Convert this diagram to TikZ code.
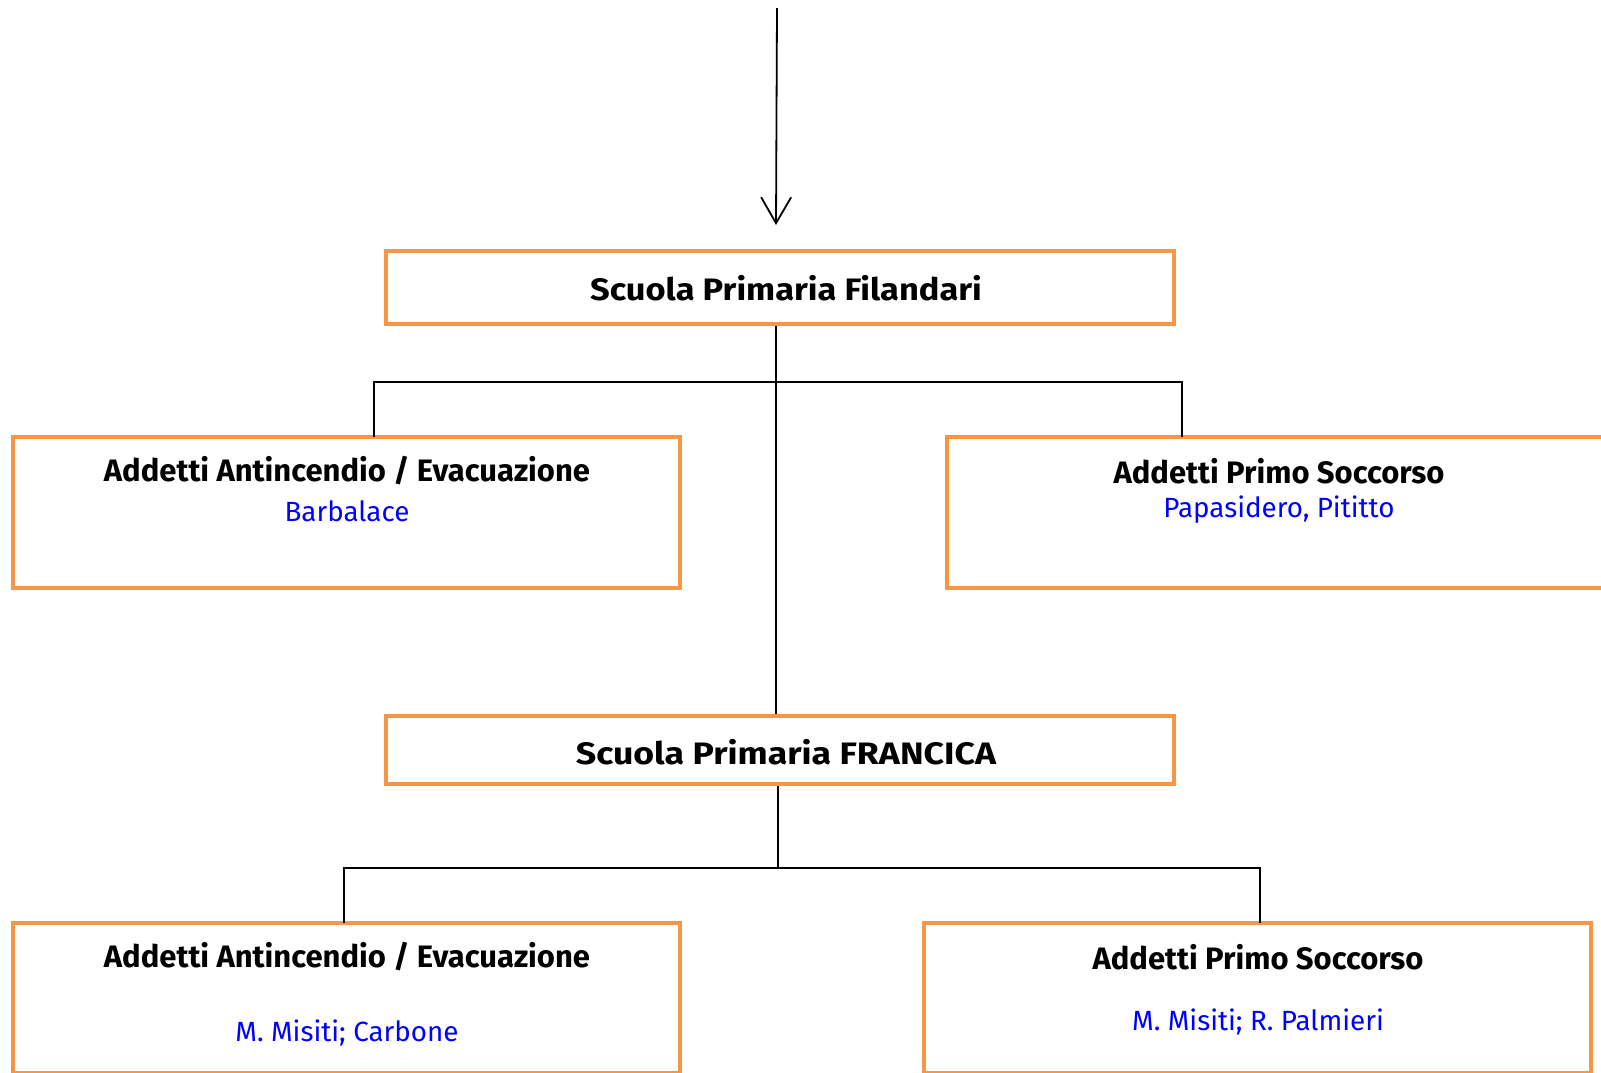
\documentclass[tikz,border=0pt]{standalone}
\usepackage{fontspec}
\setmainfont{Fira Sans}
\newfontfamily\widefont[FakeStretch=1.11]{Fira Sans}
\newfontfamily\widerfont[FakeStretch=1.15]{Fira Sans}
\usetikzlibrary{arrows.meta}
\definecolor{boxorange}{HTML}{F79646}
\begin{document}
\begin{tikzpicture}[x=1pt,y=-1pt,
  orgbox/.style={draw=boxorange,line width=4.5pt,fill=white,inner sep=0pt},
  conn/.style={draw=black,line width=1.8pt},
  title/.style={font=\fontsize{31}{36}\selectfont\bfseries,inner sep=0pt,text=black},
  school/.style={font=\widefont\fontsize{31}{36}\selectfont\bfseries,inner sep=0pt,text=black},
  schoolcaps/.style={font=\widerfont\fontsize{31}{36}\selectfont\bfseries,inner sep=0pt,text=black},
  names/.style={font=\fontsize{27.8}{33}\selectfont,inner sep=0pt,text=blue},
  tip/.style={-{Straight Barb[length=26pt,width=30pt,line width=1.8pt]}}]
\clip (0,0) rectangle (1601,1072);
\fill[white] (0,0) rectangle (1601,1072);
% boxes
\node[orgbox,minimum width=788pt,minimum height=73pt] (b1) at (780,287.5) {};
\node[orgbox,minimum width=667pt,minimum height=151pt] (b2l) at (346.5,512.5) {};
\node[orgbox,minimum width=680pt,minimum height=151pt] (b2r) at (1287,512.5) {};
\node[orgbox,minimum width=788pt,minimum height=68pt] (b3) at (780,750) {};
\node[orgbox,minimum width=667pt,minimum height=150pt] (b4l) at (346.5,998) {};
\node[orgbox,minimum width=667pt,minimum height=150pt] (b4r) at (1257.5,998) {};
% texts
\node[school] (t1) at (786,288) {Scuola Primaria Filandari};
\node[title] (t2l) at (347,471) {Addetti Antincendio / Evacuazione};
\node[names] (n2l) at (347,511) {Barbalace};
\node[title] (t2r) at (1279,471) {Addetti Primo Soccorso};
\node[names] (n2r) at (1279,510) {Papasidero, Pititto};
\node[schoolcaps] (t3) at (786,752) {Scuola Primaria FRANCICA};
\node[title] (t4l) at (347,957) {Addetti Antincendio / Evacuazione};
\node[names] (n4l) at (347,1033) {M. Misiti; Carbone};
\node[title] (t4r) at (1258,957) {Addetti Primo Soccorso};
\node[names] (n4r) at (1258,1022) {M. Misiti; R. Palmieri};
% connectors
\coordinate (top) at (777,8);
\coordinate (arrowend) at (776,225);
\coordinate (h1) at (776,382);
\coordinate (h2) at (778,868);
\draw[conn,tip] (top) -- (arrowend);
\draw[conn] (b1.south -| h1) -- (b3.north -| h1);
\draw[conn] (374,437) |- (h1) -| (1182,437);
\draw[conn] (b3.south -| h2) -- (h2);
\draw[conn] (344,923) |- (h2) -| (1260,923);
\end{tikzpicture}
\end{document}
